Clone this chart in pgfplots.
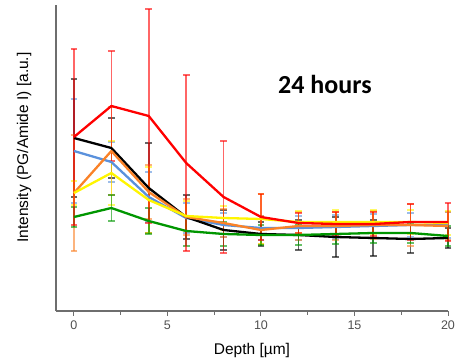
\documentclass[border=0pt]{standalone}
\usepackage{fontspec}
\setmainfont{Liberation Sans}
\newfontfamily\titlefont{Carlito}
\usepackage{pgfplots}
\pgfplotsset{compat=1.18}

\definecolor{axgray}{RGB}{110,110,110}
\definecolor{tickgray}{RGB}{80,80,80}
\definecolor{sred}{RGB}{255,0,0}
\definecolor{sblack}{RGB}{0,0,0}
\definecolor{sblue}{RGB}{90,145,220}
\definecolor{sorange}{RGB}{250,130,40}
\definecolor{syellow}{RGB}{255,245,0}
\definecolor{sgreen}{RGB}{0,150,0}

% error bars of one series, drawn without the connecting line
\pgfplotsset{
  errs/.style={
    forget plot, draw=none, mark=none,
    error bars/.cd, y dir=both, y explicit,
    error bar style={draw=#1, draw opacity=0.6, line width=1.7pt},
    error mark options={draw=#1, draw opacity=0.6, rotate=90, mark size=3.4pt, line width=1.5pt},
  },
  ser/.style={draw=#1, line width=2.3pt, mark=none, line join=round},
}

\begin{document}
\begin{tikzpicture}
\begin{axis}[
  name=ax,
  scale only axis,
  width=392pt, height=306pt,
  xmin=-0.96, xmax=20, ymin=0, ymax=306,
  axis x line*=bottom, axis y line*=left,
  axis line style={draw=axgray, line width=1.4pt, -},
  xtick={0,5,10,15,20},
  minor xtick={2.5,7.5,12.5,17.5},
  ytick=\empty,
  tick align=outside,
  major tick length=5pt, minor tick length=4pt,
  every tick/.style={draw=axgray, line width=1pt},
  tick label style={font=\fontsize{12.5}{12.5}\selectfont, text=tickgray},
  /pgf/number format/assume math mode=true,
  xticklabel style={yshift=-1pt},
  xlabel={Depth [µm]},
  xlabel style={font=\fontsize{15.5}{15.5}\selectfont, at={(rel axis cs:0.5,0)}, anchor=north, yshift=-29pt},
  ylabel={Intensity (PG/Amide I) [a.u.]},
  ylabel style={font=\fontsize{15.5}{15.5}\selectfont, at={(rel axis cs:0,0.534)}, anchor=south, yshift=21pt},
  clip=false,
]
% ---- error bars ----
\addplot[errs=sblue] coordinates {
 (0,160) +- (0,52) (2,149) +- (0,20) (4,114) +- (0,25) (6,93) +- (0,15)
 (8,86) +- (0,12) (10,83) +- (0,12) (12,83) +- (0,12) (14,84) +- (0,12)
 (16,85) +- (0,12) (18,86) +- (0,12) (20,86) +- (0,13)};
\addplot[errs=sblack] coordinates {
 (0,173) +- (0,59) (2,163) +- (0,30) (4,123) +- (0,45) (6,94) +- (0,22)
 (8,81) +- (0,20) (10,77) +- (0,12) (12,76) +- (0,15) (14,74) +- (0,20)
 (16,73) +- (0,18) (18,72) +- (0,14) (20,73) +- (0,10)};
\addplot[errs=sorange] coordinates {
 (0,118) +- (0,58) (2,160) +- (0,44) (4,119) +- (0,27) (6,94) +- (0,18)
 (8,88) +- (0,14) (10,81) +- (0,14) (12,85) +- (0,14) (14,85) +- (0,14)
 (16,86) +- (0,14) (18,86) +- (0,21) (20,85) +- (0,14)};
\addplot[errs=syellow] coordinates {
 (0,118) +- (0,12) (2,138) +- (0,32) (4,111) +- (0,33) (6,95) +- (0,15)
 (8,93) +- (0,12) (10,92) +- (0,25) (12,89) +- (0,11) (14,89) +- (0,12)
 (16,89) +- (0,12) (18,89) +- (0,12) (20,88) +- (0,12)};
\addplot[errs=sgreen] coordinates {
 (0,94) +- (0,10) (2,103) +- (0,13) (4,90) +- (0,13) (6,80) +- (0,15)
 (8,77) +- (0,12) (10,76) +- (0,10) (12,76) +- (0,10) (14,77) +- (0,10)
 (16,78) +- (0,10) (18,78) +- (0,10) (20,75) +- (0,10)};
\addplot[errs=sred] coordinates {
 (0,174) +- (0,88) (2,205) +- (0,55) (4,195) +- (0,107) (6,148) +- (0,88)
 (8,114) +- (0,56) (10,94) +- (0,23) (12,88) +- (0,10) (14,87) +- (0,12)
 (16,87) +- (0,12) (18,89) +- (0,18) (20,89) +- (0,19)};
% ---- mean profiles ----
\addplot[ser=sblue] coordinates {(0,160) (2,149) (4,114) (6,93) (8,86) (10,83) (12,83) (14,84) (16,85) (18,86) (20,86)};
\addplot[ser=sblack] coordinates {(0,173) (2,163) (4,123) (6,94) (8,81) (10,77) (12,76) (14,74) (16,73) (18,72) (20,73)};
\addplot[ser=sorange] coordinates {(0,118) (2,160) (4,119) (6,94) (8,88) (10,81) (12,85) (14,85) (16,86) (18,86) (20,85)};
\addplot[ser=syellow] coordinates {(0,118) (2,138) (4,111) (6,95) (8,93) (10,92) (12,89) (14,89) (16,89) (18,89) (20,88)};
\addplot[ser=sgreen] coordinates {(0,94) (2,103) (4,90) (6,80) (8,77) (10,76) (12,76) (14,77) (16,78) (18,78) (20,75)};
\addplot[ser=sred] coordinates {(0,174) (2,205) (4,195) (6,148) (8,114) (10,94) (12,88) (14,87) (16,87) (18,89) (20,89)};

\node[font=\titlefont\fontsize{26}{26}\selectfont\bfseries] at (axis cs:13.42,227) {24 hours};
\end{axis}
\pgfresetboundingbox
\path[use as bounding box] ([shift={(-56pt,-52pt)}]ax.south west) rectangle ([shift={(8pt,5pt)}]ax.north east);
\end{tikzpicture}
\end{document}
